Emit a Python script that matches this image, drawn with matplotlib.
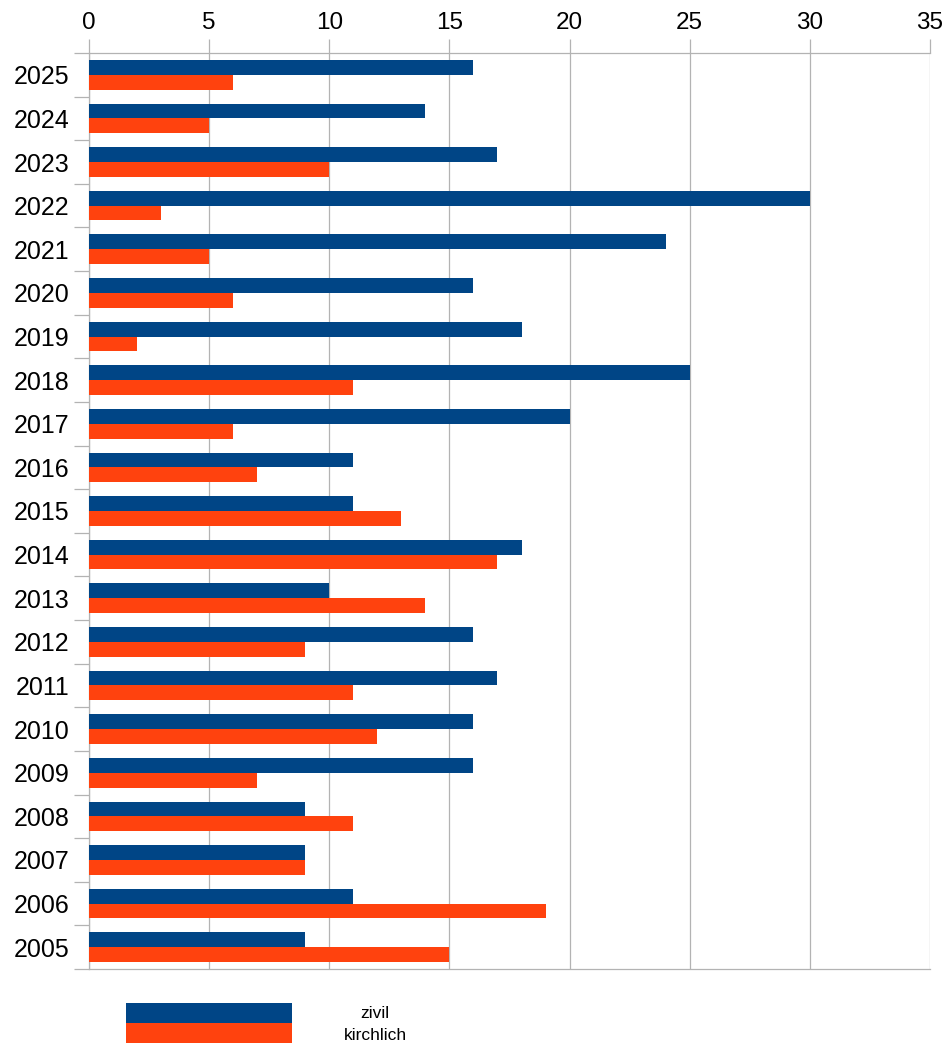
import matplotlib
matplotlib.use("Agg")
import matplotlib.pyplot as plt
from matplotlib.patches import Rectangle
import numpy as np

plt.rcParams['font.family'] = ['Liberation Sans', 'DejaVu Sans']

# Daten (2005 bis 2025)
jahre = ['2005', '2006', '2007', '2008', '2009', '2010', '2011', '2012', '2013', '2014',
         '2015', '2016', '2017', '2018', '2019', '2020', '2021', '2022', '2023', '2024', '2025']
zivil = [9, 11, 9, 9, 16, 16, 17, 16, 10, 18, 11, 11, 20, 25, 18, 16, 24, 30, 17, 14, 16]
kirchlich = [15, 19, 9, 11, 7, 12, 11, 9, 14, 17, 13, 7, 6, 11, 2, 6, 5, 3, 10, 5, 6]
serien = ['zivil', 'kirchlich']
farben = ['#004586', '#ff420e']
grau = '#b3b3b3'

fig = plt.figure(figsize=(9.51, 10.44), dpi=100)
ax = fig.add_axes([89/951, 1 - 969/1044, 841/951, 916/1044])

y = np.arange(len(jahre))
w = 0.34
ax.barh(y + w/2, zivil, height=w, color=farben[0], zorder=3)
ax.barh(y - w/2, kirchlich, height=w, color=farben[1], zorder=3)

ax.set_xlim(0, 35)
ax.set_ylim(-0.5, len(jahre) - 0.5)
ax.set_xticks(np.arange(0, 36, 5))
ax.xaxis.tick_top()
ax.tick_params(axis='x', length=10, color=grau, labelsize=17.5, pad=4, width=0.9)
ax.grid(axis='x', color=grau, linewidth=0.9, zorder=0)

ax.set_yticks(y)
ax.set_yticklabels(jahre)
ax.set_yticks(np.arange(-0.5, len(jahre), 1), minor=True)
ax.tick_params(axis='y', which='major', length=0, labelsize=18, pad=14)
ax.tick_params(axis='y', which='minor', length=11, color=grau, width=0.9)

for s in ['top', 'bottom', 'left']:
    ax.spines[s].set_color(grau)
    ax.spines[s].set_linewidth(0.9)
ax.spines['right'].set_visible(False)

# Legende unten
for i, (name, farbe) in enumerate(zip(serien, farben)):
    y0 = 1 - (1023 + 20*i) / 1044
    fig.add_artist(Rectangle((126/951, y0), 166/951, 20/1044, transform=fig.transFigure,
                             facecolor=farbe, edgecolor='none'))
    fig.text(375/951, y0 + 10/1044 - (2/1044 if i else 0), name, ha='center', va='center', fontsize=12.5)

fig.savefig('out.png', dpi=100)
